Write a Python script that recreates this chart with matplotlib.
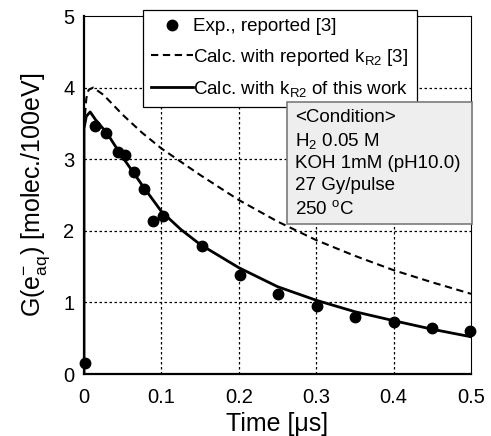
import matplotlib
matplotlib.use("Agg")
import matplotlib.pyplot as plt
from matplotlib.patches import Rectangle
from matplotlib.lines import Line2D

plt.rcParams['font.family'] = ['Liberation Sans', 'DejaVu Sans']
plt.rcParams['mathtext.fontset'] = 'custom'
plt.rcParams['mathtext.rm'] = 'Liberation Sans'
plt.rcParams['mathtext.it'] = 'Liberation Sans'
plt.rcParams['mathtext.bf'] = 'Liberation Sans:bold'

# Experimental data (reported [3])
exp_t = [0.0013, 0.0142, 0.029, 0.044, 0.053, 0.065, 0.077, 0.0896, 0.1025,
         0.152, 0.2016, 0.251, 0.3006, 0.350, 0.400, 0.449, 0.4987]
exp_g = [0.16, 3.46, 3.36, 3.10, 3.06, 2.82, 2.58, 2.14, 2.20,
         1.79, 1.38, 1.12, 0.95, 0.79, 0.73, 0.64, 0.605]

# Calc. with reported k_R2 [3] (dashed)
rep_t = [0.0, 0.003, 0.006, 0.012, 0.025, 0.034, 0.05, 0.075, 0.1, 0.15, 0.2,
         0.25, 0.3, 0.35, 0.4, 0.45, 0.5]
rep_g = [3.45, 3.85, 3.97, 4.0, 3.9, 3.8, 3.62, 3.37, 3.15, 2.78, 2.43,
         2.13, 1.87, 1.65, 1.45, 1.28, 1.12]

# Calc. with k_R2 of this work (solid)
cal_t = [0.0, 0.0, 0.003, 0.008, 0.015, 0.03, 0.0465, 0.075, 0.1, 0.125,
         0.15, 0.2, 0.25, 0.3, 0.35, 0.4, 0.45, 0.5]
cal_g = [0.0, 3.43, 3.6, 3.66, 3.55, 3.36, 3.08, 2.64, 2.27, 2.02,
         1.81, 1.485, 1.22, 1.03, 0.87, 0.745, 0.625, 0.52]

x_ticks = [0, 0.1, 0.2, 0.3, 0.4, 0.5]
x_tick_labels = ['0', '0.1', '0.2', '0.3', '0.4', '0.5']
y_ticks = [0, 1, 2, 3, 4, 5]
y_tick_labels = ['0', '1', '2', '3', '4', '5']

condition_lines = ['<Condition>', r'H$_2$ 0.05 M', 'KOH 1mM (pH10.0)',
                   '27 Gy/pulse', r'250 $^{\rm o}$C']

fig = plt.figure(figsize=(4.91, 4.36), dpi=100)
ax = fig.add_axes([84/491, 62/436, 387/491, 358/436])

ax.set_xlim(0, 0.5)
ax.set_ylim(0, 5)

# grid (inner lines only)
for xv in x_ticks[1:-1]:
    ax.axvline(xv, color='black', lw=0.9, ls=(0, (2, 2)), zorder=1)
for yv in y_ticks[1:-1]:
    ax.axhline(yv, color='black', lw=0.9, ls=(0, (2, 2)), zorder=1)

ax.plot(rep_t, rep_g, color='black', lw=1.5, ls=(0, (3.5, 2.2)), zorder=3)
ax.plot(cal_t, cal_g, color='black', lw=2.0, zorder=3)
ax.plot(exp_t, exp_g, 'o', color='black', ms=7.5, zorder=4, clip_on=False)

ax.set_xticks(x_ticks)
ax.set_xticklabels(x_tick_labels)
ax.set_yticks(y_ticks)
ax.set_yticklabels(y_tick_labels)
ax.tick_params(axis='x', length=0, pad=10, labelsize=14.5)
ax.tick_params(axis='y', length=0, pad=7, labelsize=14.5)

for s in ['left', 'bottom']:
    ax.spines[s].set_linewidth(1.6)
for s in ['top', 'right']:
    ax.spines[s].set_linewidth(0.8)

ax.set_xlabel('Time [μs]', fontsize=18, labelpad=4)
ax.set_ylabel(r'G(e$^{-}_{aq}$) [molec./100eV]', fontsize=18, labelpad=8)

handles = [
    Line2D([], [], marker='o', color='black', ls='none', ms=7.5),
    Line2D([], [], color='black', lw=1.5, ls=(0, (3.5, 2.2))),
    Line2D([], [], color='black', lw=2.0),
]
labels = ['Exp., reported [3]', r'Calc. with reported k$_{\rm R2}$ [3]',
          r'Calc. with k$_{\rm R2}$ of this work']
leg = ax.legend(handles, labels, loc='upper left',
                bbox_to_anchor=(0.152, 1.017), borderaxespad=0,
                frameon=True, fancybox=False, edgecolor='black',
                framealpha=1, fontsize=13.5, handlelength=2.2,
                handletextpad=0.05, borderpad=0.45, labelspacing=0.6)
leg.get_frame().set_linewidth(0.9)
leg.set_zorder(5)

# condition box
rect = Rectangle((0.5245, 0.419), 0.478, 0.341, transform=ax.transAxes,
                 facecolor='#eeeeee', edgecolor='#7a7a7a', lw=1.2,
                 zorder=6, clip_on=False)
ax.add_patch(rect)
y_pos = [0.716, 0.652, 0.588, 0.526, 0.462]
for txt, yp in zip(condition_lines, y_pos):
    ax.text(0.545, yp, txt, transform=ax.transAxes, fontsize=13.5,
            va='center', ha='left', zorder=7)

fig.savefig('out.png', dpi=100)
